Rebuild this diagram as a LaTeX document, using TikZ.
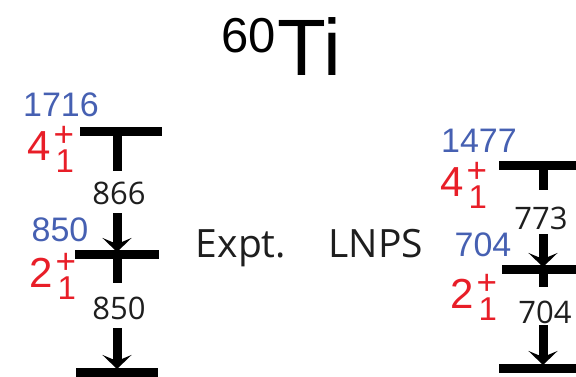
\documentclass[tikz,border=0pt]{standalone}
\usepackage{fontspec}
\setmainfont{Liberation Sans}
\newfontfamily\uifont{Open Sans}
\usetikzlibrary{arrows.meta}
\definecolor{enblue}{RGB}{70,96,178}
\definecolor{spinred}{RGB}{232,30,40}
\definecolor{ink}{RGB}{30,30,30}
% J^pi_n label: big spin value with a stacked "+" and "1" to its right
\newcommand{\spinstate}[1]{{\fontsize{42}{42}\selectfont #1}\kern3pt%
  \makebox[0pt][l]{\raisebox{13.5pt}{\fontsize{35}{35}\selectfont +}}%
  \raisebox{-12pt}{\kern2pt\fontsize{33}{33}\selectfont 1}}
\tikzset{
  levelbar/.style={line width=9pt, black},
  stubline/.style={line width=9pt, black},
  gammaray/.style={line width=9pt, black, -{Stealth[length=14pt,width=29pt,inset=6pt]}},
  energy/.style={text=enblue, font=\fontsize{34}{34}\selectfont, inner sep=0pt},
  spin/.style={text=spinred, inner sep=0pt, anchor=base west},
  trans/.style={text=ink, font=\uifont\fontsize{31}{31}\selectfont, inner sep=0pt},
  model/.style={text=ink, font=\uifont\fontsize{39}{39}\selectfont, inner sep=0pt, anchor=base},
}
\begin{document}
\begin{tikzpicture}[x=1pt,y=-1pt]
\useasboundingbox (0,0) rectangle (576,376);

% title
\node[anchor=base west, inner sep=0pt, font=\fontsize{80}{80}\selectfont] (elem) at (277,75) {Ti};
\node[anchor=base east, inner sep=0pt, font=\fontsize{49}{49}\selectfont] (mass) at (276,52) {60};

% ---------- experiment ----------
\coordinate (e4w) at (80,131);  \coordinate (e4e) at (162,131);
\coordinate (e2w) at (75,254);  \coordinate (e2e) at (159,254);
\coordinate (e0w) at (76,372);  \coordinate (e0e) at (158,372);
\draw[levelbar] (e4w) -- (e4e);
\draw[levelbar] (e2w) -- (e2e);
\draw[levelbar] (e0w) -- (e0e);

\coordinate (e4top) at (117,131); \coordinate (e4stub) at (117,171);
\coordinate (e42a) at (117,213);  \coordinate (e42b) at (117,252);
\coordinate (e2top) at (117,254); \coordinate (e2stub) at (117,283);
\coordinate (e20a) at (117,328);  \coordinate (e20b) at (117,369);
\draw[stubline] (e4top) -- (e4stub);
\draw[gammaray] (e42a) -- (e42b);
\draw[stubline] (e2top) -- (e2stub);
\draw[gammaray] (e20a) -- (e20b);
\node[trans] (g866) at (119,193) {866};
\node[trans] (g850) at (119,308) {850};

\node[energy] (en1716) at (61,105) {1716};
\node[spin] (j4e) at (27,160) {\spinstate{4}};
\node[energy] (en850) at (60,230) {850};
\node[spin] (j2e) at (29,287) {\spinstate{2}};

\node[model] (expt) at (241,257) {Expt.};
\node[model] (lnps) at (376,257) {LNPS};

% ---------- shell model ----------
\coordinate (s4w) at (499,165); \coordinate (s4e) at (580,165);
\coordinate (s2w) at (502,269); \coordinate (s2e) at (580,269);
\coordinate (s0w) at (499,368); \coordinate (s0e) at (580,368);
\draw[levelbar] (s4w) -- (s4e);
\draw[levelbar] (s2w) -- (s2e);
\draw[levelbar] (s0w) -- (s0e);

\coordinate (s4top) at (543,165); \coordinate (s4stub) at (543,190);
\coordinate (s42a) at (543,234);  \coordinate (s42b) at (543,267);
\coordinate (s2top) at (543,269); \coordinate (s2stub) at (543,287);
\coordinate (s20a) at (543,325);  \coordinate (s20b) at (543,365);
\draw[stubline] (s4top) -- (s4stub);
\draw[gammaray] (s42a) -- (s42b);
\draw[stubline] (s2top) -- (s2stub);
\draw[gammaray] (s20a) -- (s20b);
\node[trans] (g773) at (541,218) {773};
\node[trans] (g704) at (545,312) {704};

\node[energy] (en1477) at (479,141) {1477};
\node[spin] (j4s) at (440,196) {\spinstate{4}};
\node[energy] (en704) at (483,245) {704};
\node[spin] (j2s) at (450,308) {\spinstate{2}};
\end{tikzpicture}
\end{document}
